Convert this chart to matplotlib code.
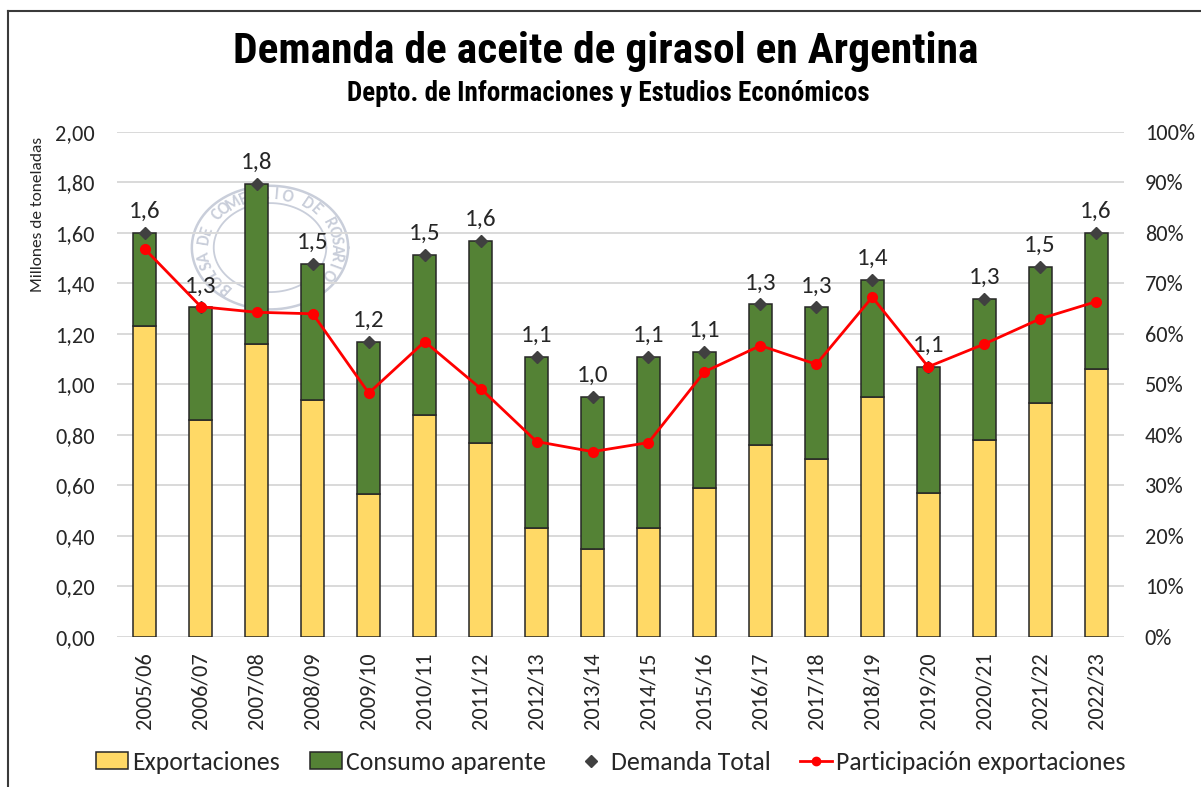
import matplotlib
matplotlib.use('Agg')
import matplotlib.pyplot as plt
import numpy as np
from matplotlib.patches import Circle, Patch
from matplotlib.lines import Line2D

# datos (millones de toneladas)
periodos = ['2005/06', '2006/07', '2007/08', '2008/09', '2009/10', '2010/11',
            '2011/12', '2012/13', '2013/14', '2014/15', '2015/16', '2016/17',
            '2017/18', '2018/19', '2019/20', '2020/21', '2021/22', '2022/23']
exportaciones = [1.23, 0.86, 1.16, 0.94, 0.565, 0.88, 0.77, 0.43, 0.35,
                 0.43, 0.59, 0.76, 0.705, 0.95, 0.572, 0.78, 0.925, 1.06]
consumo = [0.37, 0.445, 0.633, 0.536, 0.605, 0.633, 0.798, 0.678, 0.602,
           0.678, 0.54, 0.557, 0.60, 0.464, 0.498, 0.559, 0.542, 0.541]
participacion = [76.8, 65.4, 64.3, 64.0, 48.3, 58.5, 49.2, 38.7, 36.7,
                 38.5, 52.5, 57.7, 54.0, 67.3, 53.5, 58.0, 63.0, 66.4]

demanda = np.array(exportaciones) + np.array(consumo)

cuerpo = ['Carlito', 'Lato', 'DejaVu Sans']
titulo = ['Roboto Condensed', 'Liberation Sans Narrow', 'DejaVu Sans']
plt.rcParams['font.family'] = cuerpo

amarillo = '#FFD966'
verde = '#548235'
borde = '#262626'
texto = '#262626'

fig = plt.figure(figsize=(12.01, 7.87), dpi=100)
ax = fig.add_axes([0.0974, 0.1906, 0.8385, 0.6417])

# sello de fondo (un poco achatado, como en la imagen original)
wm = fig.add_axes([184 / 1201, 0.599, 172 / 1201, 136 / 787])
wm.set_xlim(-1.1, 1.1)
wm.set_ylim(-1.1, 1.1)
wm.axis('off')
gris_wm = '#c9ceda'
t = np.linspace(0, 2 * np.pi, 200)
wm.plot(np.cos(t), np.sin(t), color=gris_wm, lw=1.8)
wm.plot(0.72 * np.cos(t), 0.72 * np.sin(t), color=gris_wm, lw=1.3)
leyenda_sello = 'BOLSA DE COMERCIO DE ROSARIO'
angs = np.linspace(228, -30, len(leyenda_sello))
for ch, a in zip(leyenda_sello, angs):
    r = np.deg2rad(a)
    wm.text(0.86 * np.cos(r), 0.86 * np.sin(r), ch, rotation=a - 90,
            ha='center', va='center', fontsize=12, fontweight='bold', color=gris_wm)

x = np.arange(len(periodos))
ax.bar(x, exportaciones, width=0.41, color=amarillo, edgecolor=borde, lw=1.1, zorder=3)
ax.bar(x, consumo, width=0.41, bottom=exportaciones, color=verde, edgecolor=borde,
       lw=1.1, zorder=3)
ax.plot(x, demanda, ls='none', marker='D', ms=6, color='#404040', zorder=5)
for xi, v in zip(x, demanda):
    ax.annotate(f'{v:.1f}'.replace('.', ','), (xi, v), xytext=(0, 8),
                textcoords='offset points', ha='center', va='bottom',
                fontsize=18, color=texto, zorder=6)

ax.set_xlim(-0.5, len(periodos) - 0.5)
ax.set_ylim(0, 2.0)
ax.set_yticks(np.arange(0, 2.01, 0.2))
ax.set_yticklabels([f'{v:.2f}'.replace('.', ',') for v in np.arange(0, 2.01, 0.2)])
ax.set_xticks(x)
ax.set_xticklabels(periodos, rotation=90)
ax.tick_params(axis='y', length=0, pad=16, labelsize=16, labelcolor=texto)
ax.tick_params(axis='x', length=0, pad=11, labelsize=16, labelcolor=texto)
ax.grid(axis='y', color='#d9d9d9', lw=1.4, zorder=0)
ax.set_axisbelow(True)
for s in ax.spines.values():
    s.set_visible(False)
ax.patch.set_visible(False)

ax2 = ax.twinx()
ax2.plot(x, participacion, color='#FF0000', lw=2, marker='o', ms=7, zorder=4)
ax2.set_ylim(0, 100)
ax2.set_yticks(np.arange(0, 101, 10))
ax2.set_yticklabels([f'{v}%' for v in range(0, 101, 10)])
ax2.tick_params(axis='y', length=0, pad=15, labelsize=16, labelcolor=texto)
for s in ax2.spines.values():
    s.set_visible(False)
ax2.patch.set_visible(False)

wm.set_zorder(1)
ax.set_zorder(2)
ax2.set_zorder(3)

fig.text(38 / 1201, 1 - 214 / 787, 'Millones de toneladas', rotation=90, ha='center',
         va='center', fontsize=12.5, color=texto)

fig.text(606 / 1201, 1 - 63 / 787, 'Demanda de aceite de girasol en Argentina',
         ha='center', va='baseline', fontsize=31.3, fontweight='bold', family=titulo,
         color='black')
fig.text(608 / 1201, 1 - 101 / 787, 'Depto. de Informaciones y Estudios Económicos',
         ha='center', va='baseline', fontsize=19.5, fontweight='bold', family=titulo,
         color='black')

handles = [Patch(fc=amarillo, ec=borde, lw=1.1),
           Patch(fc=verde, ec=borde, lw=1.1),
           Line2D([], [], ls='none', marker='D', ms=6, color='#404040'),
           Line2D([], [], color='#FF0000', lw=2, marker='o', ms=6)]
etiquetas = ['Exportaciones', 'Consumo aparente', 'Demanda Total',
             'Participación exportaciones']
fig.legend(handles, etiquetas, loc='center', bbox_to_anchor=(611 / 1201, 1 - 762 / 787),
           ncol=4, frameon=False, fontsize=18.5, handlelength=1.25, handleheight=0.66,
           handletextpad=0.15, columnspacing=1.15, labelcolor=texto)

# marco
fig.add_artist(Line2D([8 / 1201, 1], [1 - 11 / 787, 1 - 11 / 787], color='#3a3a3a', lw=1.5))
fig.add_artist(Line2D([8 / 1201, 8 / 1201], [0, 1 - 11 / 787], color='#3a3a3a', lw=1.5))

fig.savefig('out.png', dpi=100)
